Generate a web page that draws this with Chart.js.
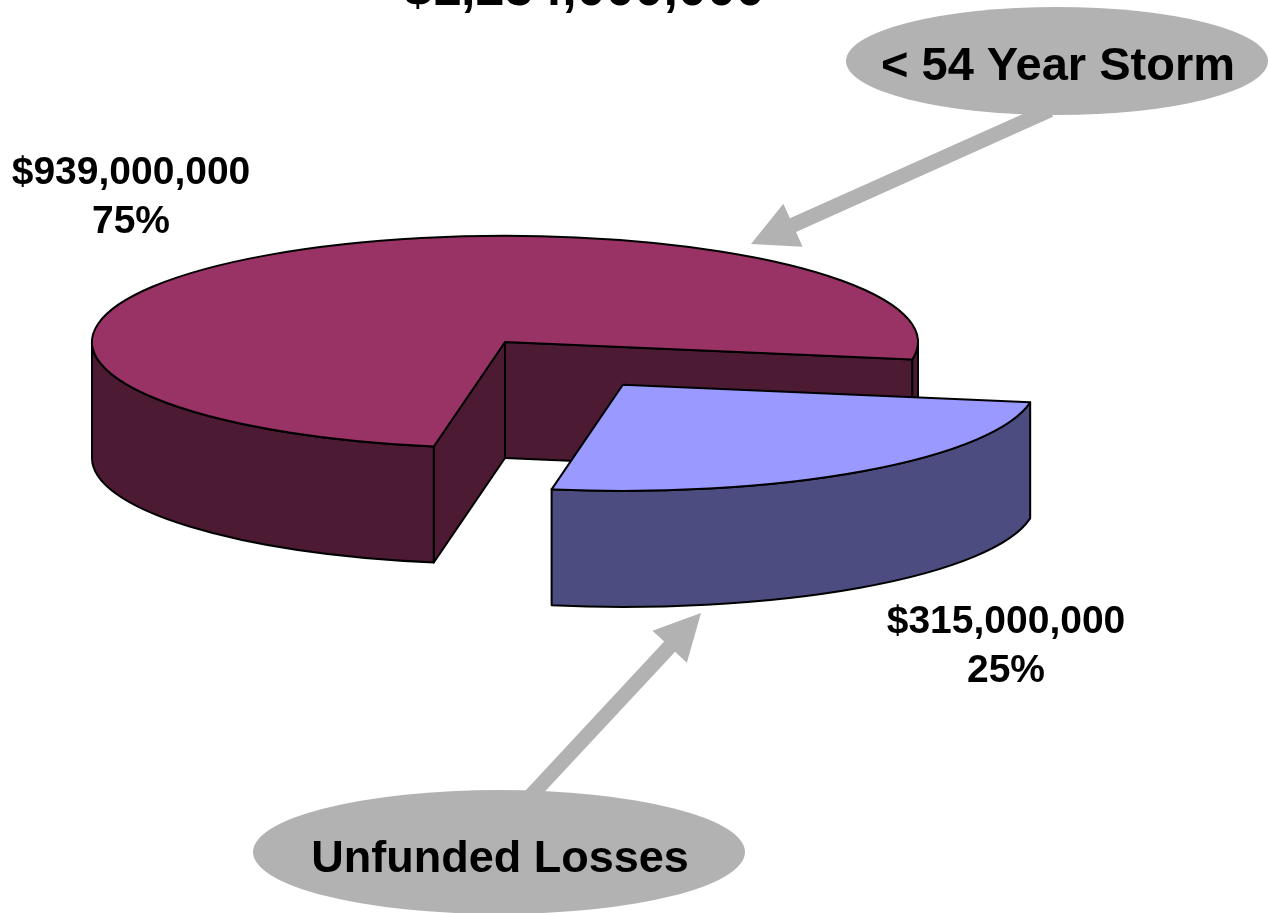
<!DOCTYPE html>
<html>
<head>
<meta charset="utf-8">
<title>Storm losses</title>
<script src="https://cdn.jsdelivr.net/npm/chart.js@4.4.1/dist/chart.umd.min.js"></script>
<style>
  html, body { margin: 0; padding: 0; background: #ffffff; }
  #wrap { position: relative; width: 1268px; height: 913px; }
</style>
</head>
<body>
<div id="wrap"><canvas id="pie"></canvas></div>
<script>
// ─── 데이터 ──────────────────────────────────────────────────────────────────
const categories = ['Unfunded Losses', '< 54 Year Storm'];
const lossValues = [315000000, 939000000];

// ─── 스타일 ──────────────────────────────────────────────────────────────────
const FONT = "Arial, 'Liberation Sans', sans-serif";
const TOP_COLORS = ['#9999FF', '#993366'];
const SIDE_COLORS = ['#4C4C80', '#4C1A33'];
const TILT = 0.257;   // 타원 세로 비율
const DEPTH = 116;    // 옆면 두께
const EXPLODE = [204, 0];
const LABEL_POS = [[1006, 633], [131, 184]];
const GREY = '#B2B2B2';

const CALLOUTS = [
  { text: '< 54 Year Storm', cx: 1057, cy: 61, rx: 211, ry: 54, size: 47, x: 1058, y: 80,
    from: [1050, 110], to: [751, 244] },
  { text: 'Unfunded Losses', cx: 499, cy: 852, rx: 246, ry: 62, size: 45, x: 500, y: 872,
    from: [525, 802], to: [701, 613] },
];

const total = lossValues.reduce((a, b) => a + b, 0);
const money = (v) => '$' + v.toLocaleString('en-US');

// ─── 3D 파이 ────────────────────────────────────────────────────────────────
function draw3dPie(chart) {
  const ctx = chart.ctx;
  const arcs = chart.getDatasetMeta(0).data;
  const slices = arcs.map((arc, i) => {
    const p = arc.getProps(['x', 'y', 'startAngle', 'endAngle', 'outerRadius'], true);
    const mid = (p.startAngle + p.endAngle) / 2;
    return {
      i,
      cx: p.x + Math.cos(mid) * EXPLODE[i],
      cy: p.y + Math.sin(mid) * EXPLODE[i] * TILT,
      r: p.outerRadius,
      a0: p.startAngle,
      a1: p.endAngle,
    };
  });
  slices.sort((s, t) => s.cy - t.cy);

  ctx.save();
  ctx.lineWidth = 2;
  ctx.strokeStyle = '#000';
  ctx.lineJoin = 'round';

  slices.forEach((s) => {
    const ry = s.r * TILT;
    const pt = (a) => [s.cx + s.r * Math.cos(a), s.cy + ry * Math.sin(a)];

    // 잘린 면
    [[s.a0, Math.cos(s.a0) < 0], [s.a1, Math.cos(s.a1) > 0]].forEach(([a, vis]) => {
      if (!vis) return;
      const [ex, ey] = pt(a);
      ctx.beginPath();
      ctx.moveTo(s.cx, s.cy);
      ctx.lineTo(ex, ey);
      ctx.lineTo(ex, ey + DEPTH);
      ctx.lineTo(s.cx, s.cy + DEPTH);
      ctx.closePath();
      ctx.fillStyle = SIDE_COLORS[s.i];
      ctx.fill();
      ctx.stroke();
    });

    // 바깥 옆면 (앞쪽 반만)
    for (let k = -1; k <= 2; k++) {
      const lo = Math.max(s.a0, 2 * Math.PI * k);
      const hi = Math.min(s.a1, 2 * Math.PI * k + Math.PI);
      if (lo >= hi) continue;
      ctx.beginPath();
      ctx.ellipse(s.cx, s.cy, s.r, ry, 0, lo, hi);
      ctx.ellipse(s.cx, s.cy + DEPTH, s.r, ry, 0, hi, lo, true);
      ctx.closePath();
      ctx.fillStyle = SIDE_COLORS[s.i];
      ctx.fill();
      ctx.stroke();
    }

    // 윗면
    ctx.beginPath();
    ctx.moveTo(s.cx, s.cy);
    ctx.ellipse(s.cx, s.cy, s.r, ry, 0, s.a0, s.a1);
    ctx.closePath();
    ctx.fillStyle = TOP_COLORS[s.i];
    ctx.fill();
    ctx.stroke();
  });
  ctx.restore();
}

function drawArrow(ctx, from, to) {
  const dx = to[0] - from[0], dy = to[1] - from[1];
  const len = Math.hypot(dx, dy);
  const ux = dx / len, uy = dy / len, nx = -uy, ny = ux;
  const shaft = 7.5, head = 23.5, headLen = 46;
  const bx = to[0] - ux * headLen, by = to[1] - uy * headLen;
  ctx.beginPath();
  ctx.moveTo(from[0] + nx * shaft, from[1] + ny * shaft);
  ctx.lineTo(bx + nx * shaft, by + ny * shaft);
  ctx.lineTo(bx + nx * head, by + ny * head);
  ctx.lineTo(to[0], to[1]);
  ctx.lineTo(bx - nx * head, by - ny * head);
  ctx.lineTo(bx - nx * shaft, by - ny * shaft);
  ctx.lineTo(from[0] - nx * shaft, from[1] - ny * shaft);
  ctx.closePath();
  ctx.fill();
}

// ─── 텍스트, 말풍선 ──────────────────────────────────────────────────────────
function drawLabels(chart) {
  const ctx = chart.ctx;
  ctx.save();
  ctx.fillStyle = '#000';
  ctx.textAlign = 'center';
  ctx.textBaseline = 'alphabetic';

  // 제목 (위쪽이 잘린 상태)
  ctx.font = `bold 52px ${FONT}`;
  ctx.fillText(money(total), 584, 5);

  ctx.font = `bold 39px ${FONT}`;
  lossValues.forEach((v, i) => {
    const [x, y] = LABEL_POS[i];
    ctx.fillText(money(v), x, y);
    ctx.fillText(Math.round(v / total * 100) + '%', x, y + 49);
  });

  CALLOUTS.forEach((c) => {
    ctx.fillStyle = GREY;
    drawArrow(ctx, c.from, c.to);
    ctx.beginPath();
    ctx.ellipse(c.cx, c.cy, c.rx, c.ry, 0, 0, Math.PI * 2);
    ctx.fill();
    ctx.fillStyle = '#000';
    ctx.font = `bold ${c.size}px ${FONT}`;
    ctx.fillText(c.text, c.x, c.y);
  });
  ctx.restore();
}

const pie3d = {
  id: 'pie3d',
  beforeDatasetsDraw(chart) {
    draw3dPie(chart);
    return false;
  },
  afterDraw(chart) {
    drawLabels(chart);
  },
};

// ─── 차트 ────────────────────────────────────────────────────────────────────
new Chart(document.getElementById('pie'), {
  type: 'pie',
  data: {
    labels: categories,
    datasets: [{
      data: lossValues,
      backgroundColor: TOP_COLORS,
      borderWidth: 0,
    }],
  },
  options: {
    responsive: true,
    maintainAspectRatio: false,
    animation: false,
    rotation: 99.5,
    radius: 413,
    layout: { padding: { left: 0, right: 258, top: 0, bottom: 229 } },
    plugins: {
      legend: { display: false },
      tooltip: { enabled: false },
      title: { display: false },
    },
  },
  plugins: [pie3d],
});
</script>
</body>
</html>
